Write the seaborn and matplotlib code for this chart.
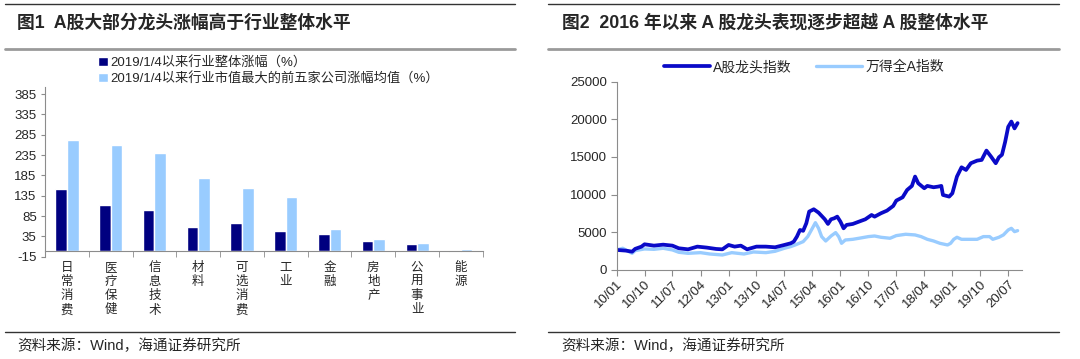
import matplotlib
matplotlib.use("Agg")
import matplotlib.pyplot as plt
from matplotlib.lines import Line2D
import numpy as np
import pandas as pd
import seaborn as sns

# --- left chart: industry returns since 2019/1/4 ---
industries = ["日常消费", "医疗保健", "信息技术", "材料", "可选消费",
              "工业", "金融", "房地产", "公用事业", "能源"]
overall_gain = [151, 111, 100, 58, 68, 48, 41, 24, 17, -4]
top5_gain = [272, 259, 239, 178, 155, 132, 52, 29, 19, 4]
bar_series = ["2019/1/4以来行业整体涨幅（%）",
              "2019/1/4以来行业市值最大的前五家公司涨幅均值（%）"]
bar_yticks = [-15, 35, 85, 135, 185, 235, 285, 335, 385]

# --- right chart: leader index vs Wind All A ---
leader_dates = [
    "2010-01-01", "2010-04-01", "2010-06-01", "2010-07-01", "2010-09-01",
    "2010-10-01", "2011-01-01", "2011-04-01", "2011-07-01", "2011-09-01",
    "2011-12-01", "2012-03-01", "2012-06-01", "2012-09-01", "2012-11-01",
    "2013-01-01", "2013-03-01", "2013-05-01", "2013-07-01", "2013-10-01",
    "2014-01-01", "2014-04-01", "2014-07-01", "2014-09-01", "2014-10-01",
    "2014-11-01", "2014-12-01", "2015-01-01", "2015-02-01", "2015-03-01",
    "2015-04-15", "2015-06-01", "2015-08-01", "2015-09-01", "2015-10-01",
    "2015-11-01", "2015-12-01", "2016-01-01", "2016-02-01", "2016-03-01",
    "2016-05-01", "2016-07-01", "2016-09-01", "2016-11-01", "2016-12-01",
    "2017-02-01", "2017-04-01", "2017-06-01", "2017-07-01", "2017-09-01",
    "2017-10-15", "2017-12-01", "2018-01-01", "2018-02-01", "2018-04-01",
    "2018-05-01", "2018-07-01", "2018-08-15", "2018-09-15", "2018-10-01",
    "2018-12-01", "2019-01-01", "2019-02-15", "2019-04-01", "2019-05-15",
    "2019-07-01", "2019-09-01", "2019-10-15", "2019-12-01", "2020-01-15",
    "2020-03-01", "2020-04-01", "2020-05-01", "2020-06-01", "2020-07-01",
    "2020-08-01", "2020-09-01", "2020-10-01",
]
leader_index = [
    2660, 2570, 2430, 2800, 3100,
    3410, 3230, 3360, 3230, 2880,
    2740, 3100, 2970, 2790, 2740,
    3320, 3100, 3230, 2740, 3100,
    3100, 3010, 3320, 3540, 3760,
    4430, 5310, 5200, 6200, 7750,
    8060, 7610, 6730, 6110, 6730,
    6860, 7080, 6420, 5530, 5980,
    6110, 6420, 6730, 7300, 7080,
    7530, 7880, 8500, 9210, 9650,
    10620, 11160, 12400, 11510, 10850,
    11160, 10980, 11070, 11160, 9960,
    9740, 10180, 12400, 13630, 13280,
    14170, 14520, 14610, 15850, 15050,
    14170, 14960, 15300, 17000, 19000,
    19700, 18800, 19500,
]

wind_dates = [
    "2010-01-01", "2010-03-01", "2010-06-01", "2010-07-01", "2010-10-01",
    "2011-01-01", "2011-04-01", "2011-07-01", "2011-09-01", "2011-12-01",
    "2012-04-01", "2012-07-01", "2012-11-01", "2013-02-01", "2013-06-01",
    "2013-09-01", "2014-01-01", "2014-04-01", "2014-07-01", "2014-09-01",
    "2014-10-15", "2015-01-01", "2015-02-15", "2015-04-01", "2015-05-01",
    "2015-06-01", "2015-07-01", "2015-08-10", "2015-10-01", "2015-11-15",
    "2015-12-15", "2016-01-12", "2016-02-18", "2016-05-01", "2016-07-01",
    "2016-10-01", "2016-12-01", "2017-02-01", "2017-05-01", "2017-07-01",
    "2017-10-01", "2018-01-01", "2018-03-01", "2018-05-01", "2018-07-01",
    "2018-09-01", "2018-11-15", "2018-12-15", "2019-01-15", "2019-02-15",
    "2019-04-01", "2019-07-01", "2019-09-01", "2019-11-01", "2020-01-01",
    "2020-02-01", "2020-04-01", "2020-05-15", "2020-07-01", "2020-08-01",
    "2020-09-01", "2020-10-01",
]
wind_index = [
    2660, 2880, 2210, 2570, 2790,
    2740, 2880, 2660, 2350, 2210,
    2300, 2120, 1990, 2300, 2120,
    2390, 2300, 2480, 2880, 3100,
    3320, 3760, 4430, 5530, 6280,
    5530, 4430, 3850, 4510, 4960,
    4430, 3540, 3980, 4070, 4210,
    4430, 4510, 4340, 4210, 4560,
    4740, 4650, 4430, 4070, 3850,
    3540, 3320, 3540, 4070, 4340,
    4070, 4070, 4070, 4430, 4430,
    4070, 4340, 4650, 5310, 5530,
    5090, 5220,
]
line_names = ["A股龙头指数", "万得全A指数"]
date_ticks = ["2010-01-01", "2010-10-01", "2011-07-01", "2012-04-01", "2013-01-01",
              "2013-10-01", "2014-07-01", "2015-04-01", "2016-01-01", "2016-10-01",
              "2017-07-01", "2018-04-01", "2019-01-01", "2019-10-01", "2020-07-01"]
date_tick_labels = ["10/01", "10/10", "11/07", "12/04", "13/01", "13/10", "14/07", "15/04",
                    "16/01", "16/10", "17/07", "18/04", "19/01", "19/10", "20/07"]

DARK_BAR = "#000080"
LIGHT_BAR = "#99CCFF"
DARK_LINE = "#0A0AC8"
LIGHT_LINE = "#99CCFF"
AXIS_GRAY = "#8C8C8C"

sns.set_style("ticks")
plt.rcParams["font.family"] = ["Liberation Sans", "Noto Sans CJK SC", "DejaVu Sans"]
plt.rcParams["axes.unicode_minus"] = False

fig = plt.figure(figsize=(10.8, 3.59), dpi=100)

# frame lines and titles
for x0, x1 in [(0.005, 0.477), (0.507, 0.981)]:
    fig.add_artist(Line2D([x0, x1], [0.989, 0.989], color="#333333", lw=1.0))
    fig.add_artist(Line2D([x0, x1], [0.864, 0.864], color="#9A9A9A", lw=2.0))
    fig.add_artist(Line2D([x0, x1], [0.076, 0.076], color="#333333", lw=1.0))

fig.text(0.016, 0.936, "图1  A股大部分龙头涨幅高于行业整体水平", fontsize=12.8,
         fontweight="bold", va="center", ha="left")
fig.text(0.520, 0.936, "图2  2016 年以来 A 股龙头表现逐步超越 A 股整体水平", fontsize=12.8,
         fontweight="bold", va="center", ha="left")
fig.text(0.016, 0.036, "资料来源：Wind，海通证券研究所", fontsize=10.5, va="center")
fig.text(0.520, 0.036, "资料来源：Wind，海通证券研究所", fontsize=10.5, va="center")

# ---- left: bars ----
ax1 = fig.add_axes([0.0417, 0.285, 0.4053, 0.4735])
bars = pd.DataFrame({
    "行业": industries * 2,
    "涨幅": overall_gain + top5_gain,
    "系列": [bar_series[0]] * len(industries) + [bar_series[1]] * len(industries),
})
sns.barplot(data=bars, x="行业", y="涨幅", hue="系列", palette=[DARK_BAR, LIGHT_BAR],
            saturation=1, width=0.53, errorbar=None, ax=ax1)
ax1.set_ylim(-15, 403)
ax1.set_xlim(-0.5, len(industries) - 0.5)
ax1.set_yticks(bar_yticks)
ax1.set_xlabel("")
ax1.set_ylabel("")
ax1.spines["top"].set_visible(False)
ax1.spines["right"].set_visible(False)
ax1.spines["bottom"].set_position(("data", 0))
for sp in ["left", "bottom"]:
    ax1.spines[sp].set_color(AXIS_GRAY)
ax1.set_xticks(range(len(industries)))
ax1.set_xticklabels(["\n".join(name) for name in industries], fontsize=9,
                    linespacing=1.25, va="top")
ax1.set_xticks(np.arange(-0.5, len(industries), 1), minor=True)
ax1.tick_params(axis="x", which="major", length=0, pad=8)
ax1.tick_params(axis="x", which="minor", length=4, color=AXIS_GRAY)
ax1.tick_params(axis="y", labelsize=9.5, length=3, color=AXIS_GRAY, pad=3)
ax1.legend(loc="upper left", bbox_to_anchor=(0.091, 0.843), bbox_transform=fig.transFigure,
           frameon=False, fontsize=9.5, handlelength=0.7, handleheight=0.7,
           handletextpad=0.2, labelspacing=0.2, borderpad=0, borderaxespad=0)

# ---- right: lines ----
ax2 = fig.add_axes([0.571, 0.248, 0.375, 0.5245])
leader = pd.DataFrame({"date": pd.to_datetime(leader_dates), "value": leader_index})
wind = pd.DataFrame({"date": pd.to_datetime(wind_dates), "value": wind_index})
sns.lineplot(data=wind, x="date", y="value", color=LIGHT_LINE, lw=2.4,
             label=line_names[1], ax=ax2)
sns.lineplot(data=leader, x="date", y="value", color=DARK_LINE, lw=2.7,
             label=line_names[0], ax=ax2)
ax2.set_ylim(0, 25000)
ax2.set_yticks(range(0, 25001, 5000))
ax2.set_xlim(pd.Timestamp("2010-01-01"), pd.Timestamp("2020-11-10"))
ax2.set_xticks(pd.to_datetime(date_ticks))
ax2.set_xticklabels(date_tick_labels, rotation=45, ha="right", rotation_mode="anchor",
                    fontsize=9.5)
ax2.set_xlabel("")
ax2.set_ylabel("")
ax2.spines["top"].set_visible(False)
ax2.spines["right"].set_visible(False)
for sp in ["left", "bottom"]:
    ax2.spines[sp].set_color(AXIS_GRAY)
ax2.tick_params(axis="x", length=4, color=AXIS_GRAY, pad=2)
ax2.tick_params(axis="y", labelsize=9.5, length=4, color=AXIS_GRAY, pad=3)
h, l = ax2.get_legend_handles_labels()
ax2.legend(h[::-1], l[::-1], loc="upper left", bbox_to_anchor=(0.615, 0.832),
           bbox_transform=fig.transFigure, ncol=2, frameon=False, fontsize=10,
           handlelength=3.3, handletextpad=0.2, columnspacing=1.8,
           borderpad=0, borderaxespad=0)

fig.savefig("out.png", dpi=100)
